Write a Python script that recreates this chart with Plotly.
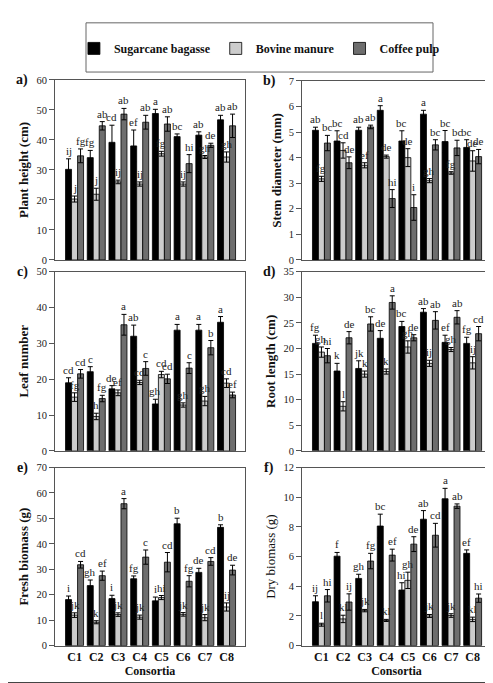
import plotly.graph_objects as go
from plotly.subplots import make_subplots

consortia = ['C1', 'C2', 'C3', 'C4', 'C5', 'C6', 'C7', 'C8']
substrates = ['Sugarcane bagasse', 'Bovine manure', 'Coffee pulp']
colors = ['#000000', '#cccccc', '#6e6e6e']

# a) plant height (cm)
height_sb = [30.2, 34.1, 39.2, 38.0, 48.8, 41.1, 41.6, 46.7]
height_sb_err = [3.5, 2.4, 5.7, 5.3, 1.4, 0.9, 1.1, 1.5]
height_bm = [20.3, 21.9, 26.0, 25.3, 35.4, 25.3, 34.3, 34.3]
height_bm_err = [1.0, 2.0, 0.6, 0.7, 0.8, 0.7, 0.5, 1.7]
height_cp = [34.7, 44.7, 48.6, 45.9, 45.3, 32.1, 38.2, 44.7]
height_cp_err = [2.3, 1.4, 1.9, 2.3, 2.4, 3.0, 0.7, 3.9]
height_sb_let = ['ij', 'fg', 'cd', 'ef', 'a', 'bc', 'ab', 'ab']
height_bm_let = ['j', 'j', 'ij', 'ij', 'fg', 'ij', 'gh', 'gh']
height_cp_let = ['fg', 'ab', 'ab', 'ab', 'ab', 'hi', 'de', 'ab']

# b) stem diameter (mm)
stem_sb = [5.07, 4.65, 5.07, 5.85, 4.65, 5.70, 4.63, 4.40]
stem_sb_err = [0.12, 0.40, 0.12, 0.18, 0.40, 0.15, 0.43, 0.30]
stem_bm = [3.17, 4.28, 3.70, 4.04, 4.00, 3.10, 3.40, 3.87]
stem_bm_err = [0.10, 0.30, 0.10, 0.06, 0.35, 0.08, 0.05, 0.40]
stem_cp = [4.57, 3.80, 5.20, 2.40, 2.05, 4.50, 4.38, 4.04]
stem_cp_err = [0.30, 0.23, 0.07, 0.35, 0.50, 0.20, 0.30, 0.28]
stem_sb_let = ['ab', 'bc', 'ab', 'a', 'bc', 'a', 'bc', 'bc']
stem_bm_let = ['fg', 'cd', 'ef', 'de', 'de', 'gh', 'fg', 'de']
stem_cp_let = ['bc', 'de', 'ab', 'hi', 'i', 'bc', 'bc', 'de']

# c) leaf number
leaf_sb = [19.0, 22.1, 17.3, 32.0, 13.1, 33.7, 33.7, 35.9]
leaf_sb_err = [1.4, 1.4, 0.9, 3.1, 1.3, 1.6, 1.6, 1.6]
leaf_bm = [15.0, 9.6, 16.2, 19.1, 21.3, 12.8, 13.9, 18.9]
leaf_bm_err = [1.2, 0.9, 0.8, 0.6, 0.9, 0.6, 1.3, 1.2]
leaf_cp = [21.5, 14.6, 35.2, 23.0, 20.1, 23.1, 28.8, 15.6]
leaf_cp_err = [1.2, 0.9, 2.9, 1.9, 1.3, 1.5, 2.0, 0.8]
leaf_sb_let = ['cd', 'c', 'de', 'ab', 'gh', 'a', 'a', 'a']
leaf_bm_let = ['fg', 'h', 'ef', 'cd', 'cd', 'gh', 'gh', 'cd']
leaf_cp_let = ['cd', 'fg', 'a', 'c', 'cd', 'c', 'b', 'ef']

# d) root length (cm)
root_sb = [21.0, 15.6, 16.1, 22.0, 24.3, 27.1, 21.2, 21.0]
root_sb_err = [1.6, 1.5, 1.5, 1.5, 1.0, 0.7, 1.4, 1.2]
root_bm = [19.3, 8.7, 15.0, 15.5, 20.3, 17.1, 19.8, 17.2]
root_bm_err = [1.0, 0.9, 0.6, 0.5, 1.2, 0.6, 0.4, 1.2]
root_cp = [18.6, 22.1, 24.8, 29.0, 22.1, 25.5, 26.1, 22.9]
root_cp_err = [1.4, 1.2, 1.4, 1.3, 0.6, 1.7, 1.3, 1.4]
root_sb_let = ['fg', 'k', 'jk', 'de', 'bc', 'ab', 'ef', 'fg']
root_bm_let = ['gh', 'l', 'k', 'k', 'gh', 'ij', 'gh', 'ij']
root_cp_let = ['hi', 'de', 'bc', 'a', 'de', 'ab', 'ab', 'cd']

# e) fresh biomass (g)
fresh_sb = [18.1, 23.6, 18.5, 26.3, 17.6, 47.9, 28.8, 46.5]
fresh_sb_err = [1.4, 2.2, 1.3, 1.1, 1.5, 2.2, 1.6, 1.0]
fresh_bm = [12.0, 9.2, 12.2, 11.2, 18.9, 12.3, 11.0, 15.2]
fresh_bm_err = [0.9, 0.6, 0.7, 0.8, 0.8, 0.7, 1.2, 1.6]
fresh_cp = [31.8, 27.5, 55.8, 34.8, 32.8, 25.3, 33.1, 29.7]
fresh_cp_err = [1.3, 1.8, 2.0, 2.8, 3.8, 2.2, 1.5, 1.9]
fresh_sb_let = ['i', 'gh', 'i', 'fg', 'i', 'b', 'de', 'b']
fresh_bm_let = ['jk', 'k', 'jk', 'jk', 'hi', 'jk', 'jk', 'ij']
fresh_cp_let = ['cd', 'ef', 'a', 'c', 'cd', 'fg', 'cd', 'de']

# f) dry biomass (g)
dry_sb = [2.96, 6.03, 4.53, 8.06, 3.75, 8.52, 9.90, 6.22]
dry_sb_err = [0.40, 0.25, 0.28, 0.80, 0.49, 0.58, 0.70, 0.23]
dry_bm = [1.41, 1.80, 2.36, 1.70, 4.40, 2.00, 2.03, 1.77]
dry_bm_err = [0.10, 0.25, 0.08, 0.07, 0.55, 0.10, 0.12, 0.15]
dry_cp = [3.36, 2.94, 5.70, 6.10, 6.84, 7.44, 9.40, 3.20]
dry_cp_err = [0.42, 0.55, 0.52, 0.40, 0.50, 0.80, 0.15, 0.28]
dry_sb_let = ['ij', 'f', 'gh', 'bc', 'hi', 'ab', 'a', 'ef']
dry_bm_let = ['l', 'kl', 'jk', 'kl', 'gh', 'jk', 'jk', 'kl']
dry_cp_let = ['hi', 'ij', 'fg', 'ef', 'de', 'cd', 'ab', 'hi']

SERIF = 'Liberation Serif, Times New Roman, serif'
W, H = 493, 683

panels = [
    # tag, y title, y max, dtick, values, errors, letters, bold title
    ('a)', 'Plant height (cm)', 60, 10,
     [height_sb, height_bm, height_cp], [height_sb_err, height_bm_err, height_cp_err],
     [height_sb_let, height_bm_let, height_cp_let], True),
    ('b)', 'Stem diameter (mm)', 7, 1,
     [stem_sb, stem_bm, stem_cp], [stem_sb_err, stem_bm_err, stem_cp_err],
     [stem_sb_let, stem_bm_let, stem_cp_let], True),
    ('c)', 'Leaf number', 50, 10,
     [leaf_sb, leaf_bm, leaf_cp], [leaf_sb_err, leaf_bm_err, leaf_cp_err],
     [leaf_sb_let, leaf_bm_let, leaf_cp_let], True),
    ('d)', 'Root length (cm)', 35, 5,
     [root_sb, root_bm, root_cp], [root_sb_err, root_bm_err, root_cp_err],
     [root_sb_let, root_bm_let, root_cp_let], True),
    ('e)', 'Fresh biomass (g)', 70, 10,
     [fresh_sb, fresh_bm, fresh_cp], [fresh_sb_err, fresh_bm_err, fresh_cp_err],
     [fresh_sb_let, fresh_bm_let, fresh_cp_let], True),
    ('f)', 'Dry biomass (g)', 12, 2,
     [dry_sb, dry_bm, dry_cp], [dry_sb_err, dry_bm_err, dry_cp_err],
     [dry_sb_let, dry_bm_let, dry_cp_let], False),
]

# plot areas in pixels (left, right, top, bottom)
boxes = [
    (47, 237, 68, 251), (294, 483, 69, 251),
    (47, 237, 263, 445), (294, 483, 263, 445),
    (47, 237, 462, 643), (294, 483, 462, 643),
]

BARGAP = 0.17
bar_w = (1 - BARGAP) / 3
offsets = [-bar_w, 0, bar_w]

fig = make_subplots(rows=3, cols=2)
annotations = []

for k, (tag, ytitle, ymax, dtick, vals, errs, lets, bold) in enumerate(panels):
    row, col = k // 2 + 1, k % 2 + 1
    n = '' if k == 0 else str(k + 1)
    for s in range(3):
        fig.add_trace(go.Bar(
            x=consortia, y=vals[s], name=substrates[s],
            marker=dict(color=colors[s], line=dict(color='black', width=0.8)),
            error_y=dict(type='data', array=errs[s], color='black',
                         thickness=1, width=2.5),
            showlegend=(k == 0), legendgroup=substrates[s],
        ), row=row, col=col)
        for i in range(len(consortia)):
            annotations.append(dict(
                x=i + offsets[s], y=vals[s][i] + errs[s][i],
                xref='x' + n, yref='y' + n, text=lets[s][i],
                showarrow=False, yanchor='bottom', yshift=0,
                font=dict(family=SERIF, size=11, color='#222')))

    l, r, t, b = boxes[k]
    bottom_row = row == 3
    fig.update_xaxes(
        domain=[l / W, r / W], range=[-0.9, 7.85], type='category',
        showline=True, linecolor='#555', linewidth=1, mirror=True,
        ticks='', showticklabels=bottom_row,
        tickfont=dict(family=SERIF, size=12, color='#111', weight='bold'),
        title=dict(text='Consortia' if bottom_row else '', standoff=0,
                   font=dict(family=SERIF, size=12, color='#111', weight='bold')),
        row=row, col=col)
    fig.update_yaxes(
        domain=[1 - b / H, 1 - t / H], range=[0, ymax], dtick=dtick,
        showline=True, linecolor='#555', linewidth=1, mirror=True,
        ticks='outside', ticklen=5, tickcolor='#555', showgrid=False, zeroline=False,
        tickfont=dict(family=SERIF, size=10.5, color='#222'),
        title=dict(text=ytitle, standoff=4,
                   font=dict(family=SERIF, size=13, color='#111',
                             weight='bold' if bold else 'normal')),
        row=row, col=col)

    annotations.append(dict(
        x=(l - 33) / W, y=1 - t / H, xref='paper', yref='paper', text=tag,
        showarrow=False, xanchor='center', yanchor='middle',
        font=dict(family=SERIF, size=14, color='#111', weight='bold')))

fig.update_layout(
    width=W, height=H,
    margin=dict(l=0, r=0, t=0, b=0),
    paper_bgcolor='white', plot_bgcolor='white',
    barmode='group', bargap=BARGAP, bargroupgap=0,
    annotations=annotations,
    legend=dict(orientation='h', x=0.51, xanchor='center',
                y=1 - 36 / H, yanchor='middle',
                font=dict(family=SERIF, size=12, color='#111', weight='bold'),
                bgcolor='rgba(0,0,0,0)', borderwidth=0),
    shapes=[
        dict(type='rect', xref='paper', yref='paper',
             x0=78 / W, x1=425 / W, y0=1 - 60 / H, y1=1 - 10 / H,
             line=dict(color='#666', width=1)),
        dict(type='rect', xref='paper', yref='paper',
             x0=0, x1=1, y0=0, y1=3 / H,
             line=dict(width=0), fillcolor='#444'),
    ],
)

fig.write_html('out.html')
